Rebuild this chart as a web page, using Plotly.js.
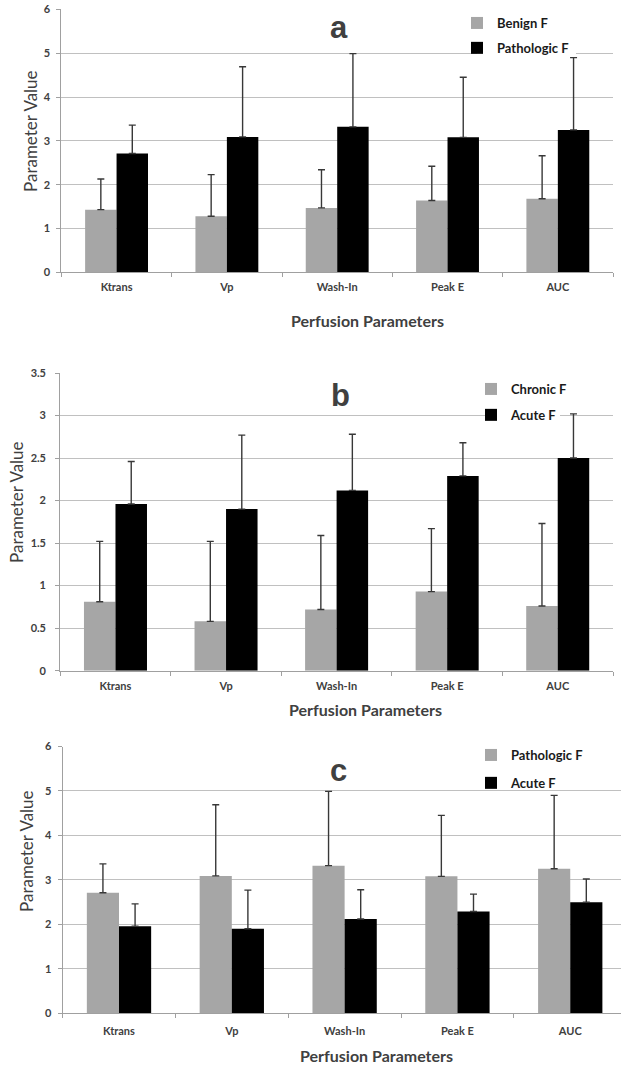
<!DOCTYPE html>
<html>
<head>
<meta charset="utf-8">
<script src="https://cdn.plot.ly/plotly-3.0.1.min.js"></script>
<style>
html,body{margin:0;padding:0;background:#fff;}
#chart{width:621px;height:1068px;}
</style>
</head>
<body>
<div id="chart"></div>
<script>
// ---- data ----
const categories = ['Ktrans', 'Vp', 'Wash-In', 'Peak E', 'AUC'];

const benignMean = [1.43, 1.28, 1.47, 1.64, 1.68];
const benignErr  = [0.70, 0.95, 0.87, 0.78, 0.98];

const pathologicMean = [2.71, 3.09, 3.32, 3.08, 3.25];
const pathologicErr  = [0.65, 1.60, 1.67, 1.37, 1.65];

const chronicMean = [0.81, 0.58, 0.72, 0.93, 0.76];
const chronicErr  = [0.71, 0.94, 0.87, 0.74, 0.97];

const acuteMean = [1.96, 1.90, 2.12, 2.29, 2.50];
const acuteErr  = [0.50, 0.87, 0.66, 0.39, 0.52];

const panelLetters = ['a', 'b', 'c'];
const xTitle = 'Perfusion Parameters';
const yTitle = 'Parameter Value';

// ---- styling ----
const GRAY = '#a6a6a6';
const BLACK = '#000000';
const W = 621, H = 1068;
const px = v => v / W;
const py = v => 1 - v / H;
// plus-only error bars: no lower whisker
const noMinus = categories.map(() => NaN);

function bar(name, y, err, color, xa, ya, legend) {
  return {
    type: 'bar', name: name, x: categories, y: y,
    xaxis: xa, yaxis: ya, legend: legend, legendgroup: name + legend,
    marker: {color: color, line: {width: 0}},
    error_y: {type: 'data', symmetric: false, array: err, arrayminus: noMinus,
              visible: true, color: '#383838', thickness: 1.4, width: 3.5},
    hoverinfo: 'x+y'
  };
}

const data = [
  bar('Benign F', benignMean, benignErr, GRAY, 'x', 'y', 'legend'),
  bar('Pathologic F', pathologicMean, pathologicErr, BLACK, 'x', 'y', 'legend'),
  bar('Chronic F', chronicMean, chronicErr, GRAY, 'x2', 'y2', 'legend2'),
  bar('Acute F', acuteMean, acuteErr, BLACK, 'x2', 'y2', 'legend2'),
  bar('Pathologic F', pathologicMean, pathologicErr, GRAY, 'x3', 'y3', 'legend3'),
  bar('Acute F', acuteMean, acuteErr, BLACK, 'x3', 'y3', 'legend3')
];

const tickFont = {family: 'Lato, sans-serif', size: 11, weight: 'bold', color: '#404040'};

function xax(domain, anchor, range, standoff) {
  return {
    domain: domain, anchor: anchor, type: 'category', range: range,
    showline: true, linecolor: '#a0a0a0', linewidth: 1,
    ticks: 'outside', tickson: 'boundaries', ticklen: 4, tickcolor: '#a0a0a0',
    showgrid: false, zeroline: false, tickfont: tickFont,
    ticklabelstandoff: standoff, fixedrange: true
  };
}
function yax(domain, anchor, range, dtick, standoff) {
  return {
    domain: domain, anchor: anchor, range: range, dtick: dtick,
    showline: true, linecolor: '#a0a0a0', linewidth: 1,
    ticks: 'outside', ticklen: 4, tickcolor: '#a0a0a0',
    showgrid: true, gridcolor: '#c0c0c0', gridwidth: 1,
    zeroline: false, tickfont: tickFont, ticklabelstandoff: standoff, fixedrange: true
  };
}

const legendFont = {family: 'Lato, sans-serif', size: 13, weight: 'bold', color: '#1a1a1a'};
function leg(x, y, gap) {
  return {x: x, y: y, xanchor: 'left', yanchor: 'top', bgcolor: 'rgba(255,255,255,0)',
          borderwidth: 0, font: legendFont, traceorder: 'grouped',
          tracegroupgap: gap, itemclick: false, itemdoubleclick: false};
}

function ann(text, x, y, size, weight, angle, family) {
  return {text: text, x: x, y: y, xref: 'paper', yref: 'paper',
          xanchor: 'center', yanchor: 'middle', showarrow: false, textangle: angle || 0,
          font: {family: family || 'Lato, sans-serif', size: size, weight: weight, color: '#404040'}};
}

// white backdrop behind the legend text (the reference legend hides the gridline there)
function backdrop(x0, x1, y0, y1) {
  return {type: 'rect', xref: 'paper', yref: 'paper', layer: 'above',
          x0: px(x0), x1: px(x1), y0: py(y1), y1: py(y0),
          fillcolor: '#ffffff', line: {width: 0}};
}

const layout = {
  width: W, height: H,
  margin: {l: 0, r: 0, t: 0, b: 0},
  paper_bgcolor: '#ffffff', plot_bgcolor: '#ffffff',
  barmode: 'group', bargap: 0.43, bargroupgap: 0,
  showlegend: true,
  xaxis:  xax([px(61.4), px(613)], 'y', [-0.5, 4.5], 4),
  yaxis:  yax([py(272.3), py(9.4)], 'x', [0, 6], 1, 4),
  xaxis2: xax([px(60.2), px(613)], 'y2', [-0.5, 4.5], 5),
  yaxis2: yax([py(670.7), py(373)], 'x2', [0, 3.5], 0.5, 7),
  xaxis3: xax([px(62.6), 1], 'y3', [-0.5, 4.45], 7),
  yaxis3: yax([py(1013.3), py(746.5)], 'x3', [0, 6], 1, 4),
  legend:  leg(px(457), py(8), 5),
  legend2: leg(px(471), py(374), 6),
  legend3: leg(px(471), py(740), 8),
  shapes: [
    backdrop(477, 576, 50, 56),
    backdrop(497, 560, 412, 419)
  ],
  annotations: [
    ann(panelLetters[0], px(338.6), py(27), 31, 'bold', 0, 'Liberation Sans, Arial, sans-serif'),
    ann(panelLetters[1], px(340), py(395), 31, 'bold', 0, 'Liberation Sans, Arial, sans-serif'),
    ann(panelLetters[2], px(338.6), py(770), 31, 'bold', 0, 'Liberation Sans, Arial, sans-serif'),
    ann(xTitle, px(367), py(320), 16, 'bold'),
    ann(xTitle, px(366), py(709), 16, 'bold'),
    ann(xTitle, px(376), py(1055), 16, 'bold'),
    ann(yTitle, px(30), py(131), 17, 'normal', -90),
    ann(yTitle, px(17), py(502), 17, 'normal', -90),
    ann(yTitle, px(26), py(851), 17, 'normal', -90)
  ]
};

Plotly.newPlot('chart', data, layout, {staticPlot: true, displayModeBar: false});
</script>
</body>
</html>
